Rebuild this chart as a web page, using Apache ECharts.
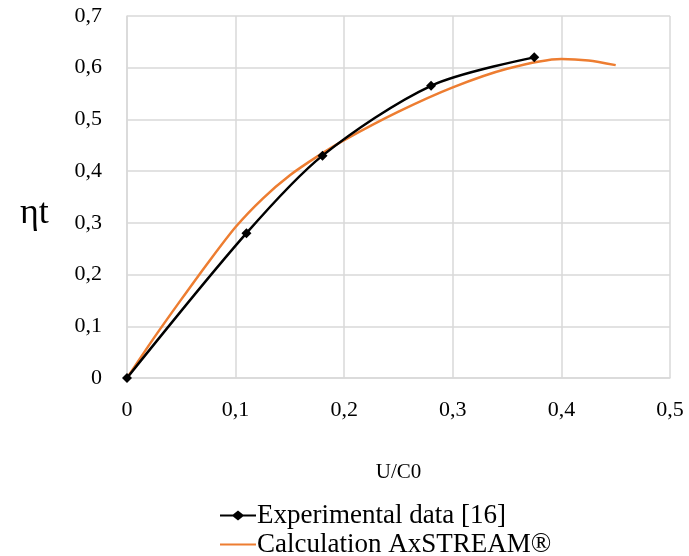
<!DOCTYPE html>
<html>
<head>
<meta charset="utf-8">
<script src="https://cdn.jsdelivr.net/npm/echarts@6/dist/echarts.min.js"></script>
<style>
  html, body { margin: 0; padding: 0; background: #fff; }
  #main { width: 689px; height: 556px; }
</style>
</head>
<body>
<div id="main"></div>
<script>
const expX = [0, 0.11, 0.18, 0.28, 0.375];
const expY = [0, 0.28, 0.43, 0.565, 0.62];

const calcX = [0, 0.025, 0.05, 0.075, 0.1, 0.125, 0.15, 0.175, 0.2, 0.25, 0.3, 0.35, 0.4, 0.425, 0.45];
const calcY = [0, 0.078, 0.152, 0.224, 0.292, 0.347, 0.392, 0.428, 0.46, 0.515, 0.562, 0.598, 0.617, 0.614, 0.605];

const xTicks = [0, 0.1, 0.2, 0.3, 0.4, 0.5];
const yTicks = [0, 0.1, 0.2, 0.3, 0.4, 0.5, 0.6, 0.7];

function pair(xs, ys) {
    return xs.map((x, i) => [x, ys[i]]);
}

function fmt(v) {
    return v === 0 ? '0' : String(+v.toFixed(1)).replace('.', ',');
}

const serif = '"Liberation Serif", "DejaVu Serif", serif';
const lineIcon = 'path://M0,4L36,4L36,6L0,6Z';
const markIcon = 'path://M0,4L13,4L18,0L23,4L36,4L36,6L23,6L18,10L13,6L0,6Z';

const chart = echarts.init(document.getElementById('main'));
chart.setOption({
    animation: false,
    grid: { left: 127, right: 19, top: 16, bottom: 178, containLabel: false },
    graphic: [{
        type: 'text',
        left: 20,
        top: 196,
        style: { text: 'ηt', font: '36px ' + serif, fill: '#000' }
    }],
    xAxis: {
        type: 'value',
        min: 0,
        max: 0.5,
        interval: 0.1,
        name: 'U/C0',
        nameLocation: 'middle',
        nameGap: 84,
        nameTextStyle: { fontFamily: serif, fontSize: 21, color: '#000' },
        axisLine: { show: true, lineStyle: { color: '#d9d9d9', width: 1.5 } },
        axisTick: { show: false },
        splitLine: { show: true, lineStyle: { color: '#d9d9d9', width: 1.5 } },
        axisLabel: {
            margin: 21,
            fontFamily: serif,
            fontSize: 22,
            color: '#000',
            formatter: fmt
        }
    },
    yAxis: {
        type: 'value',
        min: 0,
        max: 0.7,
        interval: 0.1,
        axisLine: { show: true, lineStyle: { color: '#d9d9d9', width: 1.5 } },
        axisTick: { show: false },
        splitLine: { show: true, lineStyle: { color: '#d9d9d9', width: 1.5 } },
        axisLabel: {
            margin: 25,
            fontFamily: serif,
            fontSize: 22,
            color: '#000',
            formatter: fmt
        }
    },
    legend: {
        orient: 'vertical',
        left: 220,
        top: 502,
        padding: 0,
        height: 60,
        itemGap: 2,
        itemWidth: 36,
        itemHeight: 10,
        textStyle: { fontFamily: serif, fontSize: 27, lineHeight: 26, color: '#000', padding: [0, 0, 0, -4] },
        data: [
            { name: 'Experimental data [16]', icon: markIcon },
            { name: 'Calculation AxSTREAM®', icon: lineIcon }
        ]
    },
    series: [
        {
            name: 'Calculation AxSTREAM®',
            type: 'line',
            smooth: 0.25,
            showSymbol: false,
            data: pair(calcX, calcY),
            lineStyle: { color: '#ed7d31', width: 2.5 },
            itemStyle: { color: '#ed7d31' },
            z: 2
        },
        {
            name: 'Experimental data [16]',
            type: 'line',
            smooth: 0.3,
            symbol: 'diamond',
            symbolSize: 10,
            data: pair(expX, expY),
            lineStyle: { color: '#000', width: 2.5 },
            itemStyle: { color: '#000' },
            z: 3
        }
    ]
});
</script>
</body>
</html>
